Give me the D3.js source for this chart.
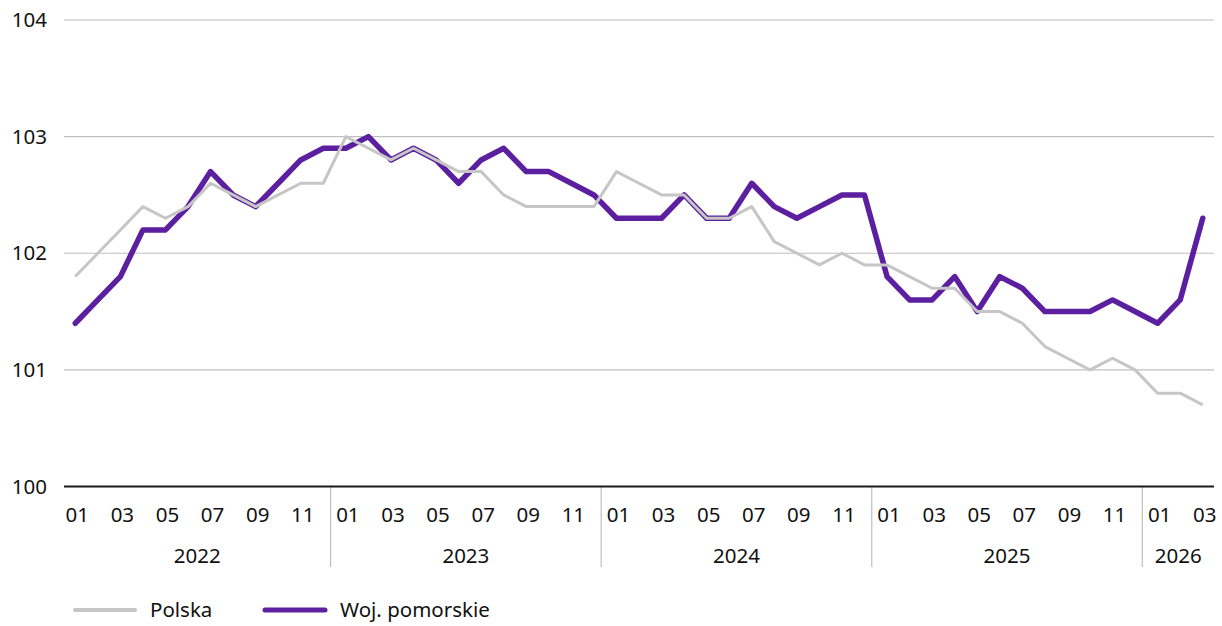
<!DOCTYPE html>
<html>
<head>
<meta charset="utf-8">
<script src="https://cdn.jsdelivr.net/npm/d3@7"></script>
<style>
  body { margin: 0; background: #fff; }
  text { font-family: "Noto Sans", "Open Sans", sans-serif; fill: #111; }
</style>
</head>
<body>
<script>
// months 2022-01 .. 2026-03
var years = [2022, 2023, 2024, 2025, 2026];
var monthsPerYear = [12, 12, 12, 12, 3];

var polska = [101.8, 102.0, 102.2, 102.4, 102.3, 102.4, 102.6, 102.5, 102.4, 102.5, 102.6, 102.6,
              103.0, 102.9, 102.8, 102.9, 102.8, 102.7, 102.7, 102.5, 102.4, 102.4, 102.4, 102.4,
              102.7, 102.6, 102.5, 102.5, 102.3, 102.3, 102.4, 102.1, 102.0, 101.9, 102.0, 101.9,
              101.9, 101.8, 101.7, 101.7, 101.5, 101.5, 101.4, 101.2, 101.1, 101.0, 101.1, 101.0,
              100.8, 100.8, 100.7];

var pomorskie = [101.4, 101.6, 101.8, 102.2, 102.2, 102.4, 102.7, 102.5, 102.4, 102.6, 102.8, 102.9,
                 102.9, 103.0, 102.8, 102.9, 102.8, 102.6, 102.8, 102.9, 102.7, 102.7, 102.6, 102.5,
                 102.3, 102.3, 102.3, 102.5, 102.3, 102.3, 102.6, 102.4, 102.3, 102.4, 102.5, 102.5,
                 101.8, 101.6, 101.6, 101.8, 101.5, 101.8, 101.7, 101.5, 101.5, 101.5, 101.6, 101.5,
                 101.4, 101.6, 102.3];

var yTicks = [100, 101, 102, 103, 104];

var months = [];
years.forEach(function (y, i) {
    for (let m = 1; m <= monthsPerYear[i]; m++) {
        months.push({year: y, month: m, key: y + "-" + (m < 10 ? "0" + m : m)});
    }
});

var width = 1222, height = 626;
var plotLeft = 64, plotRight = 1214, plotTop = 20, plotBottom = 486.5;
var fs = "20.5px";

var svg = d3.select("body").append("svg")
    .attr("width", width)
    .attr("height", height);

var x = d3.scaleBand()
    .domain(months.map(function (d) { return d.key; }))
    .range([plotLeft, plotRight])
    .padding(0);

var y = d3.scaleLinear()
    .domain([100, 104])
    .range([plotBottom, plotTop]);

function cx(key) { return x(key) + x.bandwidth() / 2; }

//gridlines
svg.append("g").selectAll("line")
    .data(yTicks.filter(function (d) { return d > 100; }))
    .enter()
    .append("line")
    .attr("x1", plotLeft)
    .attr("x2", plotRight)
    .attr("y1", function (d) { return y(d); })
    .attr("y2", function (d) { return y(d); })
    .attr("stroke", "#bfbfbf")
    .attr("stroke-width", 1.2);

//y labels
svg.append("g").selectAll("text")
    .data(yTicks)
    .enter()
    .append("text")
    .attr("x", 47)
    .attr("y", function (d) { return y(d) + 7; })
    .attr("text-anchor", "end")
    .style("font-size", fs)
    .text(function (d) { return d; });

//year separators
var sepX = [];
var acc = 0;
for (let i = 1; i < years.length; i++) {
    acc += monthsPerYear[i - 1];
    sepX.push(x(months[acc].key) - 4);
}

svg.append("g").selectAll("line")
    .data(sepX)
    .enter()
    .append("line")
    .attr("x1", function (d) { return d; })
    .attr("x2", function (d) { return d; })
    .attr("y1", plotBottom)
    .attr("y2", 567)
    .attr("stroke", "#bfbfbf")
    .attr("stroke-width", 1.2);

//axis line
svg.append("line")
    .attr("x1", plotLeft)
    .attr("x2", plotRight)
    .attr("y1", y(100))
    .attr("y2", y(100))
    .attr("stroke", "#1a1a1a")
    .attr("stroke-width", 2);

//month labels
svg.append("g").selectAll("text")
    .data(months.filter(function (d) { return d.month % 2 === 1; }))
    .enter()
    .append("text")
    .attr("x", function (d) { return cx(d.key) + 2; })
    .attr("y", 522)
    .attr("text-anchor", "middle")
    .style("font-size", fs)
    .text(function (d) { return d.month < 10 ? "0" + d.month : "" + d.month; });

//year labels
var bounds = [plotLeft].concat(sepX).concat([plotRight]);
svg.append("g").selectAll("text")
    .data(years)
    .enter()
    .append("text")
    .attr("x", function (d, i) { return (bounds[i] + bounds[i + 1]) / 2; })
    .attr("y", 563)
    .attr("text-anchor", "middle")
    .style("font-size", fs)
    .text(function (d) { return d; });

//lines (purple first, grey on top like in the original)
var line = d3.line()
    .x(function (d, i) { return cx(months[i].key); })
    .y(function (d) { return y(d); });

svg.append("path")
    .datum(pomorskie)
    .attr("d", line)
    .attr("fill", "none")
    .attr("stroke", "#5b1f9f")
    .attr("stroke-width", 5.5)
    .attr("stroke-linejoin", "round")
    .attr("stroke-linecap", "round");

svg.append("path")
    .datum(polska)
    .attr("d", line)
    .attr("fill", "none")
    .attr("stroke", "#c6c6c6")
    .attr("stroke-width", 3)
    .attr("stroke-linejoin", "round");

//legend
var legend = [
    {name: "Polska", color: "#c6c6c6", w: 4, x: 75},
    {name: "Woj. pomorskie", color: "#5b1f9f", w: 5, x: 265}
];

var lg = svg.append("g").selectAll("g")
    .data(legend)
    .enter()
    .append("g");

lg.append("line")
    .attr("x1", function (d) { return d.x; })
    .attr("x2", function (d) { return d.x + 60; })
    .attr("y1", 610)
    .attr("y2", 610)
    .attr("stroke", function (d) { return d.color; })
    .attr("stroke-width", function (d) { return d.w; })
    .attr("stroke-linecap", "round");

lg.append("text")
    .attr("x", function (d) { return d.x + 75; })
    .attr("y", 617)
    .style("font-size", fs)
    .text(function (d) { return d.name; });
</script>
</body>
</html>
